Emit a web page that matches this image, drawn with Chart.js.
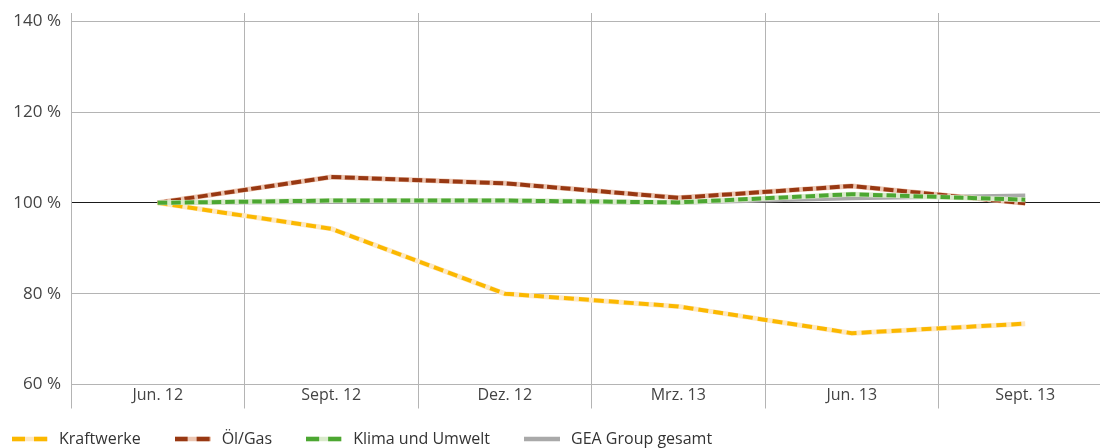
<!DOCTYPE html>
<html>
<head>
<meta charset="utf-8">
<script src="https://cdn.jsdelivr.net/npm/chart.js@4.4.1/dist/chart.umd.min.js"></script>
<style>
  html, body { margin: 0; padding: 0; background: #ffffff; overflow: hidden; }
  #wrap { width: 1112px; height: 448px; }
</style>
</head>
<body>
<div id="wrap"><canvas id="c" width="1112" height="448"></canvas></div>
<script>
// Quarterly order intake per segment, indexed to Jun. 12 = 100 %
const quarters = ['Jun. 12', 'Sept. 12', 'Dez. 12', 'Mrz. 13', 'Jun. 13', 'Sept. 13'];
const kraftwerke = [100, 94.3, 80.0, 77.2, 71.3, 73.4];
const oelGas = [100, 105.7, 104.3, 101.1, 103.7, 99.9];
const klimaUmwelt = [100, 100.5, 100.5, 100.1, 101.9, 100.7];
const geaGesamt = [100, 100.2, 100.3, 100.0, 101.0, 101.6];
const yTicks = [60, 80, 100, 120, 140];
const seriesNames = ['Kraftwerke', 'Öl/Gas', 'Klima und Umwelt', 'GEA Group gesamt'];

const FONT = '"Open Sans", "Liberation Sans", sans-serif';
const GRID = '#b4b4b4';

const YELLOW = '#fbb800', YELLOW_LIGHT = '#fde8c4';
const BROWN = '#983812', BROWN_LIGHT = '#ecc6b2';
const GREEN = '#4ca732', GREEN_LIGHT = '#d9eacb';
const GREY = '#a9a9a9';

// Legend swatch: a short line, dashed series get the pale underlay between dashes
function swatch(color, light, dashed) {
  const c = document.createElement('canvas');
  c.width = 36; c.height = 6;
  const g = c.getContext('2d');
  g.lineWidth = 4.5;
  if (dashed) {
    g.strokeStyle = light;
    g.beginPath(); g.moveTo(0, 3); g.lineTo(36, 3); g.stroke();
    g.setLineDash([13, 9]);
  }
  g.strokeStyle = color;
  g.beginPath(); g.moveTo(0, 3); g.lineTo(36, 3); g.stroke();
  return c;
}

const legendItems = [
  { text: seriesNames[0], pointStyle: swatch(YELLOW, YELLOW_LIGHT, true), datasetIndex: 4 },
  { text: seriesNames[1], pointStyle: swatch(BROWN, BROWN_LIGHT, true), datasetIndex: 2 },
  { text: seriesNames[2], pointStyle: swatch(GREEN, GREEN_LIGHT, true), datasetIndex: 0 },
  { text: seriesNames[3], pointStyle: swatch(GREY, GREY, false), datasetIndex: 6 }
].map(it => Object.assign(it, { fontColor: '#333333', lineWidth: 0, hidden: false, strokeStyle: 'rgba(0,0,0,0)', fillStyle: 'rgba(0,0,0,0)' }));

const common = { pointRadius: 0, pointHoverRadius: 0, tension: 0, fill: false };

const datasets = [
  Object.assign({ label: seriesNames[2], data: klimaUmwelt, borderColor: GREEN, borderWidth: 4, borderDash: [9.5, 4], order: 1 }, common),
  Object.assign({ label: seriesNames[2] + ' ', data: klimaUmwelt, borderColor: GREEN_LIGHT, borderWidth: 5, order: 2 }, common),
  Object.assign({ label: seriesNames[1], data: oelGas, borderColor: BROWN, borderWidth: 4, borderDash: [10, 3.5], order: 3 }, common),
  Object.assign({ label: seriesNames[1] + ' ', data: oelGas, borderColor: BROWN_LIGHT, borderWidth: 5, order: 4 }, common),
  Object.assign({ label: seriesNames[0], data: kraftwerke, borderColor: YELLOW, borderWidth: 4, borderDash: [10, 5], order: 5 }, common),
  Object.assign({ label: seriesNames[0] + ' ', data: kraftwerke, borderColor: YELLOW_LIGHT, borderWidth: 5, order: 6 }, common),
  Object.assign({ label: seriesNames[3], data: geaGesamt, borderColor: GREY, borderWidth: 4, order: 7 }, common)
];

function noPad(s) { s.paddingTop = 0; s.paddingBottom = 0; s.paddingLeft = 0; s.paddingRight = 0; }

new Chart(document.getElementById('c'), {
  type: 'line',
  data: { labels: quarters, datasets: datasets },
  options: {
    responsive: false,
    animation: false,
    layout: { padding: { left: -22, top: 13, right: 0, bottom: 0 } },
    scales: {
      x: {
        offset: true,
        grid: { offset: true, color: GRID, lineWidth: 1, tickLength: 24, drawTicks: true },
        border: { display: false },
        ticks: { mirror: true, padding: -21, color: '#444444', font: { family: FONT, size: 16 }, maxRotation: 0, autoSkip: false },
        afterFit: s => { s.height = 15.5; noPad(s); }
      },
      y: {
        min: 60,
        max: 141.8,
        afterBuildTicks: s => { s.ticks = yTicks.map(v => ({ value: v })); },
        grid: {
          drawTicks: false,
          lineWidth: 1,
          color: ctx => (ctx.tick && ctx.tick.value === 100) ? '#1a1a1a' : GRID
        },
        border: { display: true, color: GRID, width: 1 },
        ticks: { padding: 10, color: '#444444', font: { family: FONT, size: 17 }, callback: v => v + ' %' },
        afterFit: s => { s.width = 93; noPad(s); }
      }
    },
    plugins: {
      tooltip: { enabled: false },
      legend: {
        position: 'bottom',
        align: 'start',
        maxHeight: 48,
        labels: {
          usePointStyle: true,
          pointStyleWidth: 42,
          boxHeight: 6,
          padding: 31,
          color: '#333333',
          font: { family: FONT, size: 16 },
          generateLabels: () => legendItems
        }
      }
    }
  }
});
</script>
</body>
</html>
